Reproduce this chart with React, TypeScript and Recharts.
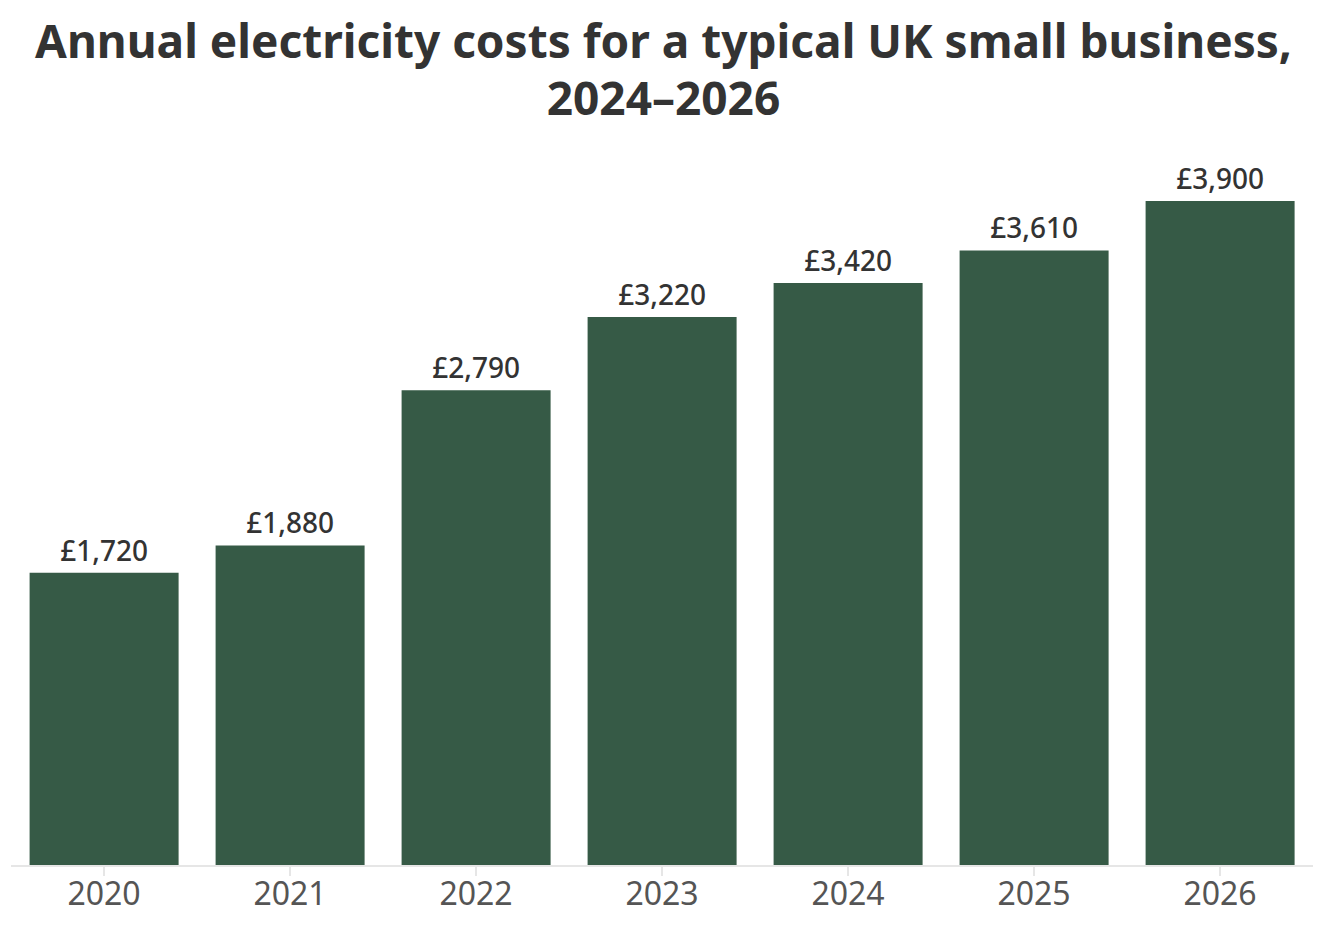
import { BarChart, Bar, XAxis, YAxis, LabelList } from 'recharts';

const years = ['2020', '2021', '2022', '2023', '2024', '2025', '2026'];
const costs = [1720, 1880, 2790, 3220, 3420, 3610, 3900];

const chartData = years.map((year, i) => ({ year, cost: costs[i] }));

const fontStack = '"Noto Sans", "Open Sans", sans-serif';

export default function App() {
    return (
        <div style={{ position: 'relative', width: 1311, height: 917, fontFamily: fontStack }}>
            <div
                style={{
                    position: 'absolute',
                    top: 4,
                    left: 0,
                    width: 1311,
                    textAlign: 'center',
                    fontSize: 46,
                    fontWeight: 700,
                    lineHeight: '57px',
                    color: '#333333',
                }}
            >
                <div>Annual electricity costs for a typical UK small business,</div>
                <div>2024–2026</div>
            </div>
            <BarChart
                width={1311}
                height={917}
                data={chartData}
                margin={{ top: 176, right: 6, bottom: 9, left: 3 }}
                barCategoryGap='10%'
            >
                <XAxis
                    dataKey='year'
                    axisLine={{ stroke: '#e6e6e6', strokeWidth: 2 }}
                    tickLine={{ stroke: '#e6e6e6', strokeWidth: 2 }}
                    tickSize={10}
                    height={50}
                    tick={{ fill: '#555555', fontSize: 32, fontFamily: fontStack }}
                    dy={4}
                />
                <YAxis hide domain={[0, 4000]} />
                <Bar dataKey='cost' fill='#365a46' isAnimationActive={false}>
                    <LabelList
                        dataKey='cost'
                        position='top'
                        offset={12}
                        formatter={(v) => `£${Number(v).toLocaleString('en-GB')}`}
                        style={{ fill: '#333333', fontSize: 28, fontWeight: 500, fontFamily: fontStack }}
                    />
                </Bar>
            </BarChart>
        </div>
    );
}
